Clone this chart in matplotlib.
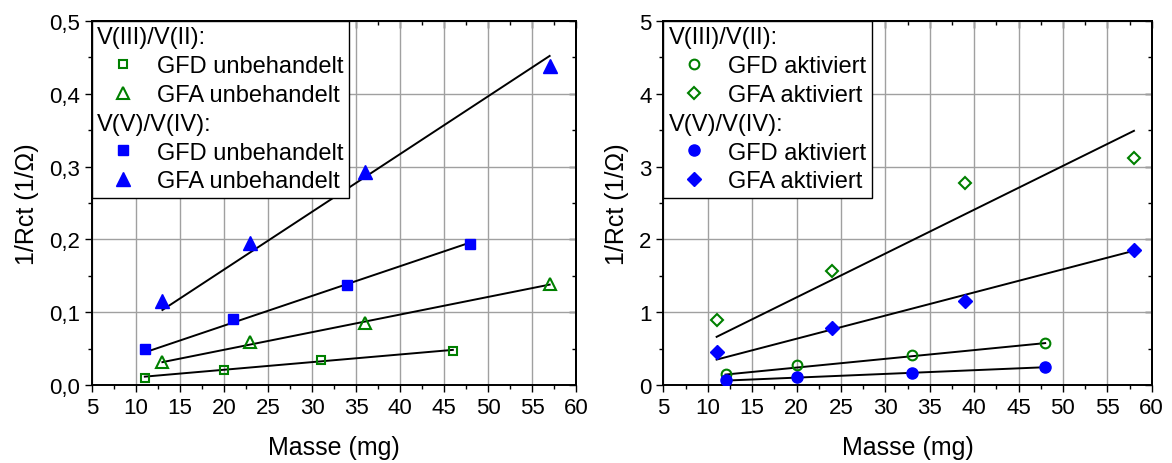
import numpy as np
import matplotlib
matplotlib.use("Agg")
import matplotlib.pyplot as plt
from matplotlib.ticker import MultipleLocator, FuncFormatter
from matplotlib.lines import Line2D

plt.rcParams['font.family'] = ['Liberation Sans', 'DejaVu Sans']

# ---------------- data: left panel (unbehandelt) ----------------
gfd_u_v32_mass = [11, 20, 31, 46]
gfd_u_v32_val = [0.009, 0.020, 0.035, 0.047]
gfa_u_v32_mass = [13, 23, 36, 57]
gfa_u_v32_val = [0.032, 0.059, 0.085, 0.139]
gfd_u_v54_mass = [11, 21, 34, 48]
gfd_u_v54_val = [0.050, 0.091, 0.138, 0.194]
gfa_u_v54_mass = [13, 23, 36, 57]
gfa_u_v54_val = [0.115, 0.195, 0.293, 0.438]
# fit slopes (lines through origin)
slopes_left = [0.00105, 0.00242, 0.00408, 0.00793]

# ---------------- data: right panel (aktiviert) ----------------
gfd_a_v32_mass = [12, 20, 33, 48]
gfd_a_v32_val = [0.15, 0.27, 0.41, 0.575]
gfa_a_v32_mass = [11, 24, 39, 58]
gfa_a_v32_val = [0.90, 1.57, 2.78, 3.115]
gfd_a_v54_mass = [12, 20, 33, 48]
gfd_a_v54_val = [0.064, 0.11, 0.165, 0.252]
gfa_a_v54_mass = [11, 24, 39, 58]
gfa_a_v54_val = [0.46, 0.79, 1.16, 1.86]
slopes_right = [0.0120, 0.0602, 0.0051, 0.0318]

labels_left = ["GFD unbehandelt", "GFA unbehandelt", "GFD unbehandelt", "GFA unbehandelt"]
labels_right = ["GFD aktiviert", "GFA aktiviert", "GFD aktiviert", "GFA aktiviert"]
headers = ["V(III)/V(II):", "V(V)/V(IV):"]

GREEN = "#008000"
BLUE = "#0000FF"
LEG_FS = 17

fig = plt.figure(figsize=(11.72, 4.64), dpi=100)
axL = fig.add_axes([0.0785, 0.168, 0.4130, 0.7846])
axR = fig.add_axes([0.5660, 0.168, 0.4167, 0.7846])


def comma(v, pos):
    return ("%.1f" % v).replace(".", ",")


def style(ax, ymax, ymajor, yminor, fmt):
    ax.set_xlim(5, 60)
    ax.set_ylim(0, ymax)
    ax.xaxis.set_major_locator(MultipleLocator(5))
    ax.xaxis.set_minor_locator(MultipleLocator(2.5))
    ax.yaxis.set_major_locator(MultipleLocator(ymajor))
    ax.yaxis.set_minor_locator(MultipleLocator(yminor))
    if fmt is not None:
        ax.yaxis.set_major_formatter(FuncFormatter(fmt))
    else:
        ax.yaxis.set_major_formatter(FuncFormatter(lambda v, p: "%d" % round(v)))
    ax.grid(True, which='major', color='#a0a0a0', linewidth=1.0, zorder=0)
    ax.set_axisbelow(True)
    ax.tick_params(which='both', direction='out', labelsize=16, width=1.0, color='black')
    ax.tick_params(which='major', length=5)
    ax.tick_params(which='minor', length=3)
    for s in ax.spines.values():
        s.set_linewidth(1.4)
    sx = ax.secondary_xaxis('top')
    sx.xaxis.set_major_locator(MultipleLocator(5))
    sx.xaxis.set_minor_locator(MultipleLocator(2.5))
    sx.tick_params(which='both', direction='in', labeltop=False, width=1.0)
    sx.tick_params(which='major', length=5)
    sx.tick_params(which='minor', length=3)
    sy = ax.secondary_yaxis('right')
    sy.yaxis.set_major_locator(MultipleLocator(ymajor))
    sy.yaxis.set_minor_locator(MultipleLocator(yminor))
    sy.tick_params(which='both', direction='in', labelright=False, width=1.0)
    sy.tick_params(which='major', length=5)
    sy.tick_params(which='minor', length=3)
    for s in list(sx.spines.values()) + list(sy.spines.values()):
        s.set_linewidth(1.4)
    ax.set_xlabel("Masse (mg)", fontsize=18, labelpad=12)
    ax.set_ylabel("1/Rct (1/\u03a9)", fontsize=18, labelpad=7)


def fitline(ax, mass, slope):
    x = np.array([min(mass), max(mass)], dtype=float)
    ax.plot(x, slope * x, color='black', linewidth=1.4, zorder=2)


def add_legend(ax, handles, labels):
    blank = Line2D([], [], linestyle='none', marker=None)
    hs = [blank, handles[0], handles[1], blank, handles[2], handles[3]]
    ls = [headers[0], labels[0], labels[1], headers[1], labels[2], labels[3]]
    htp = 0.34
    leg = ax.legend(hs, ls, loc='upper left', borderaxespad=0, fancybox=False,
                    edgecolor='black', framealpha=1, fontsize=LEG_FS, handlelength=2.19,
                    handletextpad=htp, labelspacing=0.29, borderpad=0.22)
    leg.get_frame().set_linewidth(1.0)
    leg.set_zorder(5)
    sep = htp * LEG_FS
    for col in leg._legend_handle_box.get_children():
        for row, hp in enumerate(col.get_children()):
            if row in (0, 3):
                hp.get_children()[0].set_width(-sep)
    return leg


# ---- left
style(axL, 0.5, 0.1, 0.05, comma)
for m, v, s in zip([gfd_u_v32_mass, gfa_u_v32_mass, gfd_u_v54_mass, gfa_u_v54_mass],
                   [gfd_u_v32_val, gfa_u_v32_val, gfd_u_v54_val, gfa_u_v54_val],
                   slopes_left):
    fitline(axL, m, s)
h1, = axL.plot(gfd_u_v32_mass, gfd_u_v32_val, 's', ms=6, mfc='none', mec=GREEN, mew=1.5, zorder=3)
h2, = axL.plot(gfa_u_v32_mass, gfa_u_v32_val, '^', ms=8.5, mfc='none', mec=GREEN, mew=1.5, zorder=3)
h3, = axL.plot(gfd_u_v54_mass, gfd_u_v54_val, 's', ms=7, mfc=BLUE, mec=BLUE, mew=1, zorder=3)
h4, = axL.plot(gfa_u_v54_mass, gfa_u_v54_val, '^', ms=9.5, mfc=BLUE, mec=BLUE, mew=1, zorder=3)
add_legend(axL, [h1, h2, h3, h4], labels_left)

# ---- right
style(axR, 5, 1, 0.5, None)
for m, v, s in zip([gfd_a_v32_mass, gfa_a_v32_mass, gfd_a_v54_mass, gfa_a_v54_mass],
                   [gfd_a_v32_val, gfa_a_v32_val, gfd_a_v54_val, gfa_a_v54_val],
                   slopes_right):
    fitline(axR, m, s)
g1, = axR.plot(gfd_a_v32_mass, gfd_a_v32_val, 'o', ms=7, mfc='none', mec=GREEN, mew=1.5, zorder=3)
g2, = axR.plot(gfa_a_v32_mass, gfa_a_v32_val, 'D', ms=6.5, mfc='none', mec=GREEN, mew=1.5, zorder=3)
g3, = axR.plot(gfd_a_v54_mass, gfd_a_v54_val, 'o', ms=8, mfc=BLUE, mec=BLUE, mew=1, zorder=3)
g4, = axR.plot(gfa_a_v54_mass, gfa_a_v54_val, 'D', ms=7.5, mfc=BLUE, mec=BLUE, mew=1, zorder=3)
add_legend(axR, [g1, g2, g3, g4], labels_right)

fig.savefig("out.png", dpi=100)
